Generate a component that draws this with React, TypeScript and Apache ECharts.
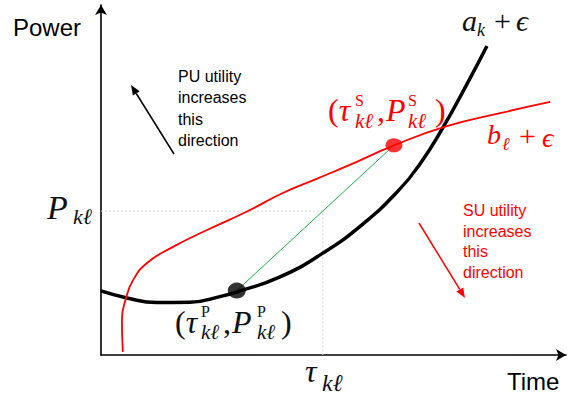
import React, { useEffect, useRef } from "react";
import * as echarts from "echarts";

// Data (x: time 0..10, y: power 0..10)
const blackCurve: [number, number][] = [
  [0, 1.83], [0.56, 1.63], [1.2, 1.5], [1.91, 1.51], [2.62, 1.69], [2.92, 1.8],
  [3.85, 2.23], [4.77, 2.91], [5.63, 3.74], [6.39, 4.69], [6.86, 5.46],
  [7.35, 6.49], [7.87, 7.74], [8.3, 8.83],
];
const redCurve: [number, number][] = [
  [0.47, 0.09], [0.45, 1.0], [0.54, 1.63], [0.69, 2.14], [0.99, 2.63],
  [1.55, 3.09], [2.28, 3.57], [3.14, 4.1], [3.91, 4.63], [4.65, 5.04],
  [5.35, 5.43], [6.3, 5.99], [7.42, 6.53], [8.58, 6.91], [9.66, 7.23],
];
const primaryPoint: [number, number] = [2.92, 1.84];
const secondaryPoint: [number, number] = [6.3, 5.99];
const tauKl = 4.77;
const pKl = 4.11;
const xLabel = "Time";
const yLabel = "Power";
const puText = ["PU utility", "increases", "this", "direction"];
const suText = ["SU utility", "increases", "this", "direction"];

const SERIF = '"Liberation Serif", "DejaVu Serif", serif';
const SANS = '"Liberation Sans", Arial, sans-serif';
const RED = "#ff0000";
const INK = "#111111";

function mt(text: string, left: number, baseline: number, size: number, color: string, italic = true, family = SERIF) {
  return {
    type: "text",
    x: left,
    y: baseline - 0.34 * size,
    silent: true,
    style: {
      text,
      font: `${italic ? "italic " : ""}${size}px ${family}`,
      fill: color,
      align: "left",
      verticalAlign: "middle",
    },
  };
}

// rich text: roman symbol followed by italic letter
function romanItalic(sym: string, letter: string, left: number, baseline: number, size: number, color: string, gap = 0) {
  return {
    type: "text",
    x: left,
    y: baseline - 0.34 * size,
    silent: true,
    style: {
      text: `{r|${sym}}{i|${letter}}`,
      fill: color,
      align: "left",
      verticalAlign: "middle",
      rich: {
        r: { font: `${size}px ${SERIF}`, fill: color, padding: [0, gap, 0, 0] },
        i: { font: `italic ${size}px ${SERIF}`, fill: color },
      },
    },
  };
}

// stacked superscript / subscript block
function scripts(sup: string, sub: string, left: number, supBase: number, subBase: number, supSize: number, subSize: number, color: string) {
  const h1 = supSize;
  const top = supBase - 0.34 * supSize - h1 / 2;
  const h2 = 2 * (subBase - 0.34 * subSize - top - h1);
  return {
    type: "text",
    x: left,
    y: top,
    silent: true,
    style: {
      text: `{u|${sup}}\n{d|${sub}}`,
      fill: color,
      align: "left",
      verticalAlign: "top",
      rich: {
        u: { font: `${supSize}px ${SERIF}`, fill: color, lineHeight: h1 },
        d: { font: `italic ${subSize}px ${SERIF}`, fill: color, lineHeight: h2 },
      },
    },
  };
}

function arrow(x1: number, y1: number, x2: number, y2: number, color: string) {
  const dx = x2 - x1;
  const dy = y2 - y1;
  const len = Math.sqrt(dx * dx + dy * dy);
  const ux = dx / len;
  const uy = dy / len;
  const L = 10;
  const W = 8;
  const bx = x2 - ux * L;
  const by = y2 - uy * L;
  const nx = -uy;
  const ny = ux;
  return [
    { type: "line", silent: true, shape: { x1, y1, x2: bx, y2: by }, style: { stroke: color, lineWidth: 1.5 } },
    {
      type: "polygon",
      silent: true,
      shape: { points: [[x2, y2], [bx + nx * W / 2, by + ny * W / 2], [bx - nx * W / 2, by - ny * W / 2]] },
      style: { fill: color },
    },
  ];
}

export default function App() {
  const ref = useRef<HTMLDivElement>(null);
  useEffect(() => {
    document.body.style.margin = "0";
    const chart = echarts.init(ref.current!, null, { renderer: "svg" });
    const axisCommon = {
      type: "value",
      min: 0,
      max: 10,
      axisLine: {
        show: true,
        onZero: false,
        symbol: ["none", "arrow"],
        symbolSize: [9, 10],
        lineStyle: { color: "#000", width: 1.6 },
      },
      axisTick: { show: false },
      axisLabel: { show: false },
      splitLine: { show: false },
    };
    const graphics: any[] = [
      mt(yLabel, 13, 36, 24, "#000", false, SANS),
      mt(xLabel, 507, 390, 24, "#000", false, SANS),
      ...puText.map((t, i) => mt(t, 178, 82 + i * 21.3, 16, "#000", false, SANS)),
      ...suText.map((t, i) => mt(t, 463, 216 + i * 20.7, 16, RED, false, SANS)),
      ...arrow(174, 154, 131, 85, "#000"),
      ...arrow(419, 223, 465, 298, RED),
      // (tau^S_kl, P^S_kl)
      romanItalic("(", "τ", 328, 121, 32, RED),
      scripts("S", "kℓ", 355, 106, 128, 16, 21, RED),
      romanItalic(",", "P", 377, 121, 32, RED, 1),
      scripts("S", "kℓ", 408, 106, 128, 16, 21, RED),
      mt(")", 435, 121, 32, RED, false),
      // (tau^P_kl, P^P_kl)
      romanItalic("(", "τ", 175, 333, 32, INK),
      scripts("P", "kℓ", 201, 317, 339, 16, 21, INK),
      romanItalic(",", "P", 223, 333, 32, INK, 1),
      scripts("P", "kℓ", 257, 317, 339, 16, 21, INK),
      mt(")", 281, 333, 32, INK, false),
      // P_kl
      mt("P", 47, 219, 34, INK),
      mt("kℓ", 73, 224, 22, INK),
      // tau_kl
      mt("τ", 305, 382, 32, INK),
      mt("kℓ", 322, 391, 24, INK),
      // a_k + eps
      mt("a", 462, 31, 30, INK),
      mt("k", 477, 36, 18, INK),
      mt("+", 494, 31, 30, INK, false),
      mt("ϵ", 516, 31, 30, INK),
      // b_l + eps
      mt("b", 487, 144, 28, RED),
      mt("ℓ", 502, 150, 18, RED),
      mt("+", 519, 146, 30, RED, false),
      mt("ϵ", 542, 147, 28, RED),
    ];
    chart.setOption({
      animation: false,
      grid: { left: 101, right: 5, top: 5, bottom: 47 },
      xAxis: axisCommon,
      yAxis: axisCommon,
      series: [
        {
          type: "line",
          data: [[0, pKl], [tauKl, pKl], [tauKl, 0]],
          symbol: "none",
          silent: true,
          z: 1,
          lineStyle: { color: "#d6d6d6", width: 1, type: [2, 2] },
        },
        {
          type: "line",
          data: blackCurve,
          smooth: 0.5,
          symbol: "none",
          silent: true,
          z: 2,
          lineStyle: { color: "#000", width: 3.5 },
        },
        {
          type: "line",
          data: redCurve,
          smooth: 0.5,
          symbol: "none",
          silent: true,
          z: 3,
          lineStyle: { color: RED, width: 1.8 },
        },
        {
          type: "line",
          data: [primaryPoint, secondaryPoint],
          symbol: "none",
          silent: true,
          z: 4,
          lineStyle: { color: "#22ac4c", width: 1 },
        },
        {
          type: "scatter",
          data: [primaryPoint],
          symbol: "circle",
          symbolSize: [18, 16],
          silent: true,
          z: 5,
          itemStyle: { color: "#000" },
        },
        {
          type: "scatter",
          data: [secondaryPoint],
          symbol: "circle",
          symbolSize: [17, 14],
          silent: true,
          z: 5,
          itemStyle: { color: RED },
        },
      ],
      graphic: graphics,
    });
    return () => chart.dispose();
  }, []);
  return <div ref={ref} style={{ width: 571, height: 402 }} />;
}
